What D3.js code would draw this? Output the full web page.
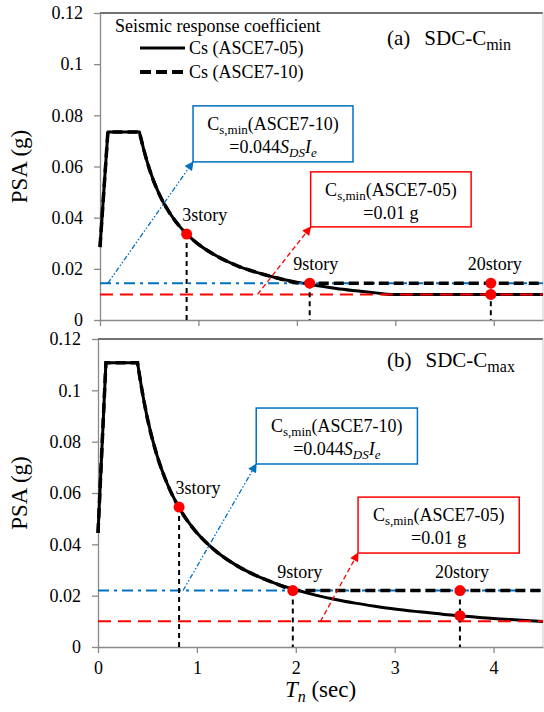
<!DOCTYPE html>
<html>
<head>
<meta charset="utf-8">
<title></title>
<style>
  body { margin: 0; background: #fff; }
</style>
</head>
<body>
<script src="https://d3js.org/d3.v7.min.js"></script>
<script>

// ---- data ----
var yTicks = [0, 0.02, 0.04, 0.06, 0.08, 0.1, 0.12];
var yTickLabels = ["0", "0.02", "0.04", "0.06", "0.08", "0.1", "0.12"];
var xTicks = [0, 1, 2, 3, 4];
var xTickLabels = ["0", "1", "2", "3", "4"];
var storyNames = ["3story", "9story", "20story"];

// (a) SDC-Cmin : Cs spectra (period in sec, Cs in g)
var aT05  = [0, 0.08, 0.40, 0.45, 0.5, 0.6, 0.7, 0.8, 0.9, 1.0, 1.2, 1.4, 1.6, 1.8, 2.0, 2.2, 2.4, 2.6, 2.8, 2.96, 4.5];
var aCs05 = [0.0285, 0.0735, 0.0735, 0.0658, 0.0592, 0.0493, 0.0423, 0.0370, 0.0329, 0.0296, 0.0247, 0.0211, 0.0185, 0.0164, 0.0148, 0.0135, 0.0123, 0.0114, 0.0106, 0.0100, 0.0100];
var aT10  = [0, 0.08, 0.40, 0.45, 0.5, 0.6, 0.7, 0.8, 0.9, 1.0, 1.2, 1.4, 1.6, 1.8, 2.05, 4.5];
var aCs10 = [0.0285, 0.0735, 0.0735, 0.0658, 0.0592, 0.0493, 0.0423, 0.0370, 0.0329, 0.0296, 0.0247, 0.0211, 0.0185, 0.0164, 0.0144, 0.0144];
var aMin05 = 0.01, aMin10 = 0.0144;
var aStoryT = [0.88, 2.13, 3.97];
var aPtT = [0.88, 2.13, 3.97, 3.97];
var aPtV = [0.0336, 0.0144, 0.0144, 0.0100];

// (b) SDC-Cmax
var bT05  = [0, 0.08, 0.40, 0.45, 0.5, 0.6, 0.7, 0.8, 0.9, 1.0, 1.2, 1.4, 1.6, 1.8, 2.0, 2.2, 2.4, 2.6, 2.8, 3.0, 3.25, 3.5, 3.75, 4.0, 4.25, 4.5];
var bCs05 = [0.0444, 0.1107, 0.1107, 0.0989, 0.0890, 0.0742, 0.0636, 0.0556, 0.0494, 0.0445, 0.0371, 0.0318, 0.0278, 0.0247, 0.0223, 0.0202, 0.0185, 0.0171, 0.0159, 0.0148, 0.0137, 0.0127, 0.0119, 0.0111, 0.0105, 0.0099];
var bT10  = [0, 0.08, 0.40, 0.45, 0.5, 0.6, 0.7, 0.8, 0.9, 1.0, 1.2, 1.4, 1.6, 1.8, 2.02, 4.5];
var bCs10 = [0.0444, 0.1107, 0.1107, 0.0989, 0.0890, 0.0742, 0.0636, 0.0556, 0.0494, 0.0445, 0.0371, 0.0318, 0.0278, 0.0247, 0.0220, 0.0220];
var bMin05 = 0.01, bMin10 = 0.022;
var bStoryT = [0.82, 1.97, 3.66];
var bPtT = [0.82, 1.97, 3.66, 3.66];
var bPtV = [0.0545, 0.0220, 0.0220, 0.0122];

// ---- layout ----
var W = 544, H = 712;
var blue = "#0070c0", red = "#ff0000", axisGrey = "#898989";
var serif = "'Liberation Serif', 'Times New Roman', Tinos, 'DejaVu Serif', 'Noto Serif', serif";

var svg = d3.select("body").append("svg")
    .attr("width", W)
    .attr("height", H)
    .attr("font-family", serif);

var defs = svg.append("defs");
[["arrBlue", blue], ["arrRed", red]].forEach(function(m) {
    defs.append("marker")
        .attr("id", m[0])
        .attr("viewBox", "0 0 10 10")
        .attr("refX", 9).attr("refY", 5)
        .attr("markerUnits", "userSpaceOnUse")
        .attr("markerWidth", 10).attr("markerHeight", 9)
        .attr("orient", "auto")
      .append("path")
        .attr("d", "M0,0L10,5L0,10Z")
        .attr("fill", m[1]);
});

var panels = [
    {
        x: d3.scaleLinear().domain([0, 4.5]).range([100, 543]),
        y: d3.scaleLinear().domain([0, 0.12]).range([320, 13]),
        T05: aT05, C05: aCs05, T10: aT10, C10: aCs10,
        min05: aMin05, min10: aMin10,
        storyT: aStoryT, ptT: aPtT, ptV: aPtV,
        labelDx: [18, 6, 4],
        xLabels: false, legend: true,
        tag: "(a)", sub: "min",
        blueBox: [0.945, 2.57, 0.0837, 0.0618], blueTail: 0.08,
        redBox: [2.14, 3.77, 0.0579, 0.0364], redTail: 1.6
    },
    {
        x: d3.scaleLinear().domain([0, 4.5]).range([98, 543]),
        y: d3.scaleLinear().domain([0, 0.12]).range([647, 339]),
        T05: bT05, C05: bCs05, T10: bT10, C10: bCs10,
        min05: bMin05, min10: bMin10,
        storyT: bStoryT, ptT: bPtT, ptV: bPtV,
        labelDx: [19, 7, 2],
        xLabels: true, legend: false,
        tag: "(b)", sub: "max",
        blueBox: [1.60, 3.23, 0.0931, 0.0713], blueTail: 0.86,
        redBox: [2.63, 4.26, 0.0584, 0.0366], redTail: 2.25
    }
];

// ramp + plateau as straight lines, descending branch smooth
function curvePath(x, y, T, V) {
    var pts = T.map(function(t, i) { return [x(t), y(V[i])]; });
    var lin = d3.line()(pts.slice(0, 3));
    var mono = d3.line().curve(d3.curveMonotoneX)(pts.slice(2));
    return lin + mono.replace(/^M[^A-Za-z]*/, "");
}

function hline(g, x, y, v, color, width, dash) {
    g.append("line")
        .attr("x1", x(0)).attr("x2", x(4.5))
        .attr("y1", y(v)).attr("y2", y(v))
        .attr("stroke", color)
        .attr("stroke-width", width)
        .attr("stroke-dasharray", dash);
}

function drawBox(g, p, box, color, tail, level, marker, line2) {
    var x = p.x, y = p.y;
    g.append("line")
        .attr("x1", x(tail)).attr("y1", y(level))
        .attr("x2", x(box[0])).attr("y2", y(box[3]))
        .attr("stroke", color)
        .attr("stroke-width", 1.3)
        .attr("stroke-dasharray", color === blue ? "5,2,1.5,2,1.5,2" : "5,3")
        .attr("marker-end", "url(#" + marker + ")");
    g.append("rect")
        .attr("x", x(box[0])).attr("y", y(box[2]))
        .attr("width", x(box[1]) - x(box[0]))
        .attr("height", y(box[3]) - y(box[2]))
        .attr("fill", "#fff")
        .attr("stroke", color)
        .attr("stroke-width", 1.5);
    var cx = (x(box[0]) + x(box[1])) / 2;
    var t1 = g.append("text")
        .attr("x", cx).attr("y", y(box[2]) + 24)
        .attr("text-anchor", "middle")
        .attr("font-size", 18);
    t1.append("tspan").text("C");
    t1.append("tspan").attr("dy", 4).attr("font-size", 13).text("s,min");
    t1.append("tspan").attr("dy", -4).text(color === blue ? "(ASCE7-10)" : "(ASCE7-05)");
    var t2 = g.append("text")
        .attr("x", cx).attr("y", y(box[2]) + 47)
        .attr("text-anchor", "middle")
        .attr("font-size", 18);
    line2(t2);
}

panels.forEach(function(p) {
    var x = p.x, y = p.y;
    var g = svg.append("g");

    // plot frame: top and right edges
    g.append("line")
        .attr("x1", x(0)).attr("x2", x(4.5))
        .attr("y1", y(0.12)).attr("y2", y(0.12))
        .attr("stroke", "#444").attr("stroke-width", 1.3);
    g.append("line")
        .attr("x1", x(4.5)).attr("x2", x(4.5))
        .attr("y1", y(0)).attr("y2", y(0.12))
        .attr("stroke", "#d4d4d4").attr("stroke-width", 1.2);

    // axes
    var gy = g.append("g")
        .attr("transform", "translate(" + x(0) + ",0)")
        .call(d3.axisLeft(y).tickValues(yTicks).tickSize(6).tickSizeOuter(0).tickPadding(11)
            .tickFormat(function(d, i) { return yTickLabels[i]; }));
    var gx = g.append("g")
        .attr("transform", "translate(0," + y(0) + ")")
        .call(d3.axisBottom(x).tickValues(xTicks).tickSize(6).tickSizeOuter(0).tickPadding(8)
            .tickFormat(function(d, i) { return p.xLabels ? xTickLabels[i] : ""; }));
    [gx, gy].forEach(function(a) {
        a.attr("font-family", serif).attr("font-size", 18);
        a.select(".domain").attr("stroke", axisGrey).attr("stroke-width", 1.3);
        a.selectAll(".tick line").attr("stroke", axisGrey).attr("stroke-width", 1.3);
        a.selectAll(".tick text").attr("fill", "#000");
    });

    // y title
    g.append("text")
        .attr("transform", "translate(27," + (y(0) + y(0.12)) / 2 + ") rotate(-90)")
        .attr("text-anchor", "middle")
        .attr("font-size", 23)
        .text("PSA (g)");

    // panel title
    var tt = g.append("text")
        .attr("x", 387).attr("y", y(0.12) + 32 - (p.xLabels ? 4 : 0))
        .attr("font-size", 21);
    tt.append("tspan").text(p.tag);
    tt.append("tspan").attr("dx", 14).text("SDC-C");
    tt.append("tspan").attr("dy", 5).attr("font-size", 16).text(p.sub);

    // Cs curves and minimum levels
    g.append("path")
        .attr("d", curvePath(x, y, p.T05, p.C05))
        .attr("fill", "none").attr("stroke", "#000")
        .attr("stroke-width", 3).attr("stroke-linejoin", "round");
    hline(g, x, y, p.min10, blue, 2, "11,5,3,5");
    g.append("path")
        .attr("d", curvePath(x, y, p.T10, p.C10))
        .attr("fill", "none").attr("stroke", "#000")
        .attr("stroke-width", 3.5).attr("stroke-dasharray", "10,5");
    hline(g, x, y, p.min05, red, 2, "13,7");

    // annotation boxes with arrows
    drawBox(g, p, p.blueBox, blue, p.blueTail, p.min10, "arrBlue", function(t) {
        t.append("tspan").text("=0.044");
        t.append("tspan").attr("font-style", "italic").text("S");
        t.append("tspan").attr("dy", 4).attr("font-style", "italic").attr("font-size", 13).text("DS");
        t.append("tspan").attr("dy", -4).attr("font-style", "italic").text("I");
        t.append("tspan").attr("dy", 4).attr("font-style", "italic").attr("font-size", 13).text("e");
    });
    drawBox(g, p, p.redBox, red, p.redTail, p.min05, "arrRed", function(t) {
        t.append("tspan").text("=0.01 g");
    });

    // story periods: dashed drop lines, points, labels
    p.storyT.forEach(function(t, i) {
        var top = d3.max(p.ptV.filter(function(v, j) { return p.ptT[j] === t; }));
        g.append("line")
            .attr("x1", x(t)).attr("x2", x(t))
            .attr("y1", y(top)).attr("y2", y(0))
            .attr("stroke", "#000").attr("stroke-width", 2)
            .attr("stroke-dasharray", "5,4");
        g.append("text")
            .attr("x", x(t) + p.labelDx[i]).attr("y", y(top) - 13)
            .attr("text-anchor", "middle")
            .attr("font-size", 18)
            .text(storyNames[i]);
    });
    g.selectAll("circle.pt")
        .data(p.ptT)
        .enter().append("circle")
        .attr("class", "pt")
        .attr("cx", function(d) { return x(d); })
        .attr("cy", function(d, i) { return y(p.ptV[i]); })
        .attr("r", 5.5)
        .attr("fill", red);

    // x title
    if (p.xLabels) {
        var xt = g.append("text")
            .attr("x", (x(0) + x(4.5)) / 2).attr("y", 697)
            .attr("text-anchor", "middle")
            .attr("font-size", 23);
        xt.append("tspan").attr("font-style", "italic").text("T");
        xt.append("tspan").attr("dy", 5).attr("font-style", "italic").attr("font-size", 16).text("n");
        xt.append("tspan").attr("dy", -5).text(" (sec)");
    }

    // legend
    if (p.legend) {
        g.append("text").attr("x", 115).attr("y", 32)
            .attr("font-size", 18).text("Seismic response coefficient");
        g.append("line").attr("x1", 140).attr("x2", 185).attr("y1", 48).attr("y2", 48)
            .attr("stroke", "#000").attr("stroke-width", 3);
        g.append("line").attr("x1", 140).attr("x2", 185).attr("y1", 72).attr("y2", 72)
            .attr("stroke", "#000").attr("stroke-width", 4).attr("stroke-dasharray", "11,5");
        g.append("text").attr("x", 189).attr("y", 54)
            .attr("font-size", 18).text("Cs (ASCE7-05)");
        g.append("text").attr("x", 189).attr("y", 78)
            .attr("font-size", 18).text("Cs (ASCE7-10)");
    }
});

</script>
</body>
</html>
